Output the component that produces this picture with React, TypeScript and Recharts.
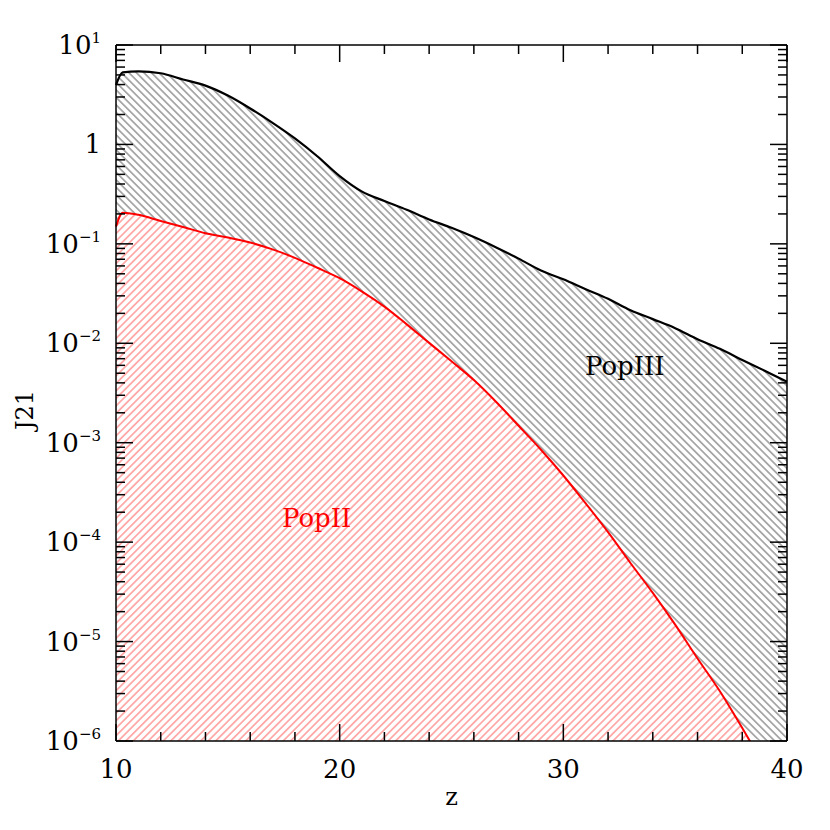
import {
  ComposedChart,
  Area,
  Line,
  XAxis,
  YAxis,
  ReferenceDot,
} from 'recharts';

// redshift grid
const zValues = [10, 10.3, 11, 12, 13, 14, 15, 16, 17, 18, 19, 20, 21, 22, 23, 24, 25, 26, 27, 28, 29, 30, 31, 32, 33, 34, 35, 36, 37, 38, 39, 40];

// J21 from Pop III stars (black curve)
const popIII = [3.96, 5.3, 5.43, 5.2, 4.5, 3.9, 3.1, 2.3, 1.65, 1.15, 0.76, 0.48, 0.335, 0.27, 0.22, 0.176, 0.145, 0.117, 0.092, 0.071, 0.054, 0.044, 0.035, 0.028, 0.0215, 0.0175, 0.0142, 0.011, 0.0088, 0.0068, 0.0053, 0.0041];

// J21 from Pop II stars (red curve), drops below the axis after z~38.4
const popII = [0.149, 0.206, 0.196, 0.17, 0.148, 0.128, 0.116, 0.103, 0.088, 0.0724, 0.0575, 0.0451, 0.0331, 0.0234, 0.0155, 0.0101, 0.0066, 0.00427, 0.00257, 0.00148, 0.00085, 0.000468, 0.000245, 0.000126, 0.0000617, 0.0000309, 0.0000148, 0.00000676, 0.00000316, 0.00000135, 0.00000056, null];

const xTicks = [10, 12, 14, 16, 18, 20, 22, 24, 26, 28, 30, 32, 34, 36, 38, 40];
const xMajor = [10, 20, 30, 40];

const yDecades = [-6, -5, -4, -3, -2, -1, 0, 1];
const yMinorMult = [2, 3, 4, 5, 6, 7, 8, 9];

const annotations = ['PopIII', 'PopII'];
const annotZ = [30.97, 17.42];
const annotJ = [0.0048, 0.000142];
const annotColor = ['#000000', '#ff0000'];

const FLOOR = 1e-6;
const FONT = '"DejaVu Serif", serif';

const yTicks: number[] = [];
yDecades.forEach((e) => {
  yTicks.push(Math.pow(10, e));
  if (e < 1) yMinorMult.forEach((m) => yTicks.push(m * Math.pow(10, e)));
});

const data = zValues.map((z, i) => ({
  z,
  popIII: popIII[i],
  popII: popII[i],
}));

const isMajorY = (v: number) => {
  const l = Math.log10(v);
  return Math.abs(l - Math.round(l)) < 1e-6;
};

function YTick(props: any) {
  const { x, y, payload, side } = props;
  const v = payload.value as number;
  const major = isMajorY(v);
  const len = major ? 17 : 9;
  const dir = side === 'left' ? 1 : -1;
  const e = Math.round(Math.log10(v));
  return (
    <g>
      <line x1={x} y1={y} x2={x + dir * len} y2={y} stroke="#000" strokeWidth={1.5} />
      {side === 'left' && major && (
        <text x={x - 15} y={y + 9} textAnchor="end" fontFamily={FONT} fontSize={26} fill="#000">
          {e === 0 ? '1' : '10'}
          {e !== 0 && (
            <tspan dy={-11} fontSize={15}>
              {e < 0 ? `\u2212${-e}` : `${e}`}
            </tspan>
          )}
        </text>
      )}
    </g>
  );
}

function XTick(props: any) {
  const { x, y, payload, side } = props;
  const v = payload.value as number;
  const major = xMajor.includes(v);
  const len = major ? 17 : 9;
  const dir = side === 'bottom' ? -1 : 1;
  return (
    <g>
      <line x1={x} y1={y} x2={x} y2={y + dir * len} stroke="#000" strokeWidth={1.5} />
      {side === 'bottom' && major && (
        <text x={x} y={y + 37} textAnchor="middle" fontFamily={FONT} fontSize={26} fill="#000">
          {v}
        </text>
      )}
    </g>
  );
}

export default function App() {
  return (
    <div style={{ width: 814, height: 814, background: '#fff' }}>
      <ComposedChart width={814} height={814} data={data} margin={{ top: 0, right: 0, bottom: 0, left: 0 }}>
        <defs>
          <pattern id="hatchBlack" width={5.3} height={5.3} patternUnits="userSpaceOnUse" patternTransform="rotate(-45)">
            <line x1={2.65} y1={0} x2={2.65} y2={5.3} stroke="#000" strokeOpacity={0.62} strokeWidth={1} />
          </pattern>
          <pattern id="hatchRed" width={5.3} height={5.3} patternUnits="userSpaceOnUse" patternTransform="rotate(45)">
            <line x1={2.65} y1={0} x2={2.65} y2={5.3} stroke="#ff0000" strokeOpacity={0.6} strokeWidth={1} />
          </pattern>
        </defs>
        <XAxis
          xAxisId="bottom"
          dataKey="z"
          type="number"
          domain={[10, 40]}
          ticks={xTicks}
          interval={0}
          height={81}
          tickSize={0}
          tickMargin={0}
          tickLine={false}
          axisLine={{ stroke: '#000', strokeWidth: 1.5 }}
          tick={<XTick side="bottom" />}
          label={{
            content: (p: any) => (
              <text x={p.viewBox.x + p.viewBox.width / 2} y={p.viewBox.y + 64} textAnchor="middle" fontFamily={FONT} fontSize={24} fill="#000">
                z
              </text>
            ),
          }}
        />
        <XAxis
          xAxisId="top"
          orientation="top"
          dataKey="z"
          type="number"
          domain={[10, 40]}
          ticks={xTicks}
          interval={0}
          height={37}
          tickSize={0}
          tickMargin={0}
          tickLine={false}
          axisLine={{ stroke: '#000', strokeWidth: 1.5 }}
          tick={<XTick side="top" />}
        />
        <YAxis
          yAxisId="left"
          scale="log"
          type="number"
          domain={[FLOOR, 10]}
          allowDataOverflow
          ticks={yTicks}
          interval={0}
          width={108}
          tickSize={0}
          tickMargin={0}
          tickLine={false}
          axisLine={{ stroke: '#000', strokeWidth: 1.5 }}
          tick={<YTick side="left" />}
          label={{
            content: (p: any) => (
              <text
                x={p.viewBox.x + 25}
                y={p.viewBox.y + p.viewBox.height / 2 + 17}
                textAnchor="middle"
                fontFamily={FONT}
                fontSize={24}
                fill="#000"
                transform={`rotate(-90, ${p.viewBox.x + 25}, ${p.viewBox.y + p.viewBox.height / 2 + 17})`}
              >
                J21
              </text>
            ),
          }}
        />
        <YAxis
          yAxisId="right"
          orientation="right"
          scale="log"
          type="number"
          domain={[FLOOR, 10]}
          allowDataOverflow
          ticks={yTicks}
          interval={0}
          width={35}
          tickSize={0}
          tickMargin={0}
          tickLine={false}
          axisLine={{ stroke: '#000', strokeWidth: 1.5 }}
          tick={<YTick side="right" />}
        />
        <Area
          xAxisId="bottom"
          yAxisId="left"
          type="monotone"
          dataKey={(d: any) => [Math.max(d.popII ?? 0, FLOOR), d.popIII]}
          stroke="none"
          fill="url(#hatchBlack)"
          fillOpacity={1}
          isAnimationActive={false}
        />
        <Area
          xAxisId="bottom"
          yAxisId="left"
          type="monotone"
          dataKey={(d: any) => (d.popII == null ? null : [FLOOR, d.popII])}
          stroke="none"
          fill="url(#hatchRed)"
          fillOpacity={1}
          isAnimationActive={false}
        />
        <Line
          xAxisId="bottom"
          yAxisId="left"
          type="monotone"
          dataKey="popIII"
          stroke="#000"
          strokeWidth={2.2}
          dot={false}
          isAnimationActive={false}
        />
        <Line
          xAxisId="bottom"
          yAxisId="left"
          type="monotone"
          dataKey="popII"
          stroke="#ff0000"
          strokeWidth={2}
          dot={false}
          isAnimationActive={false}
        />
        {annotations.map((name, i) => (
          <ReferenceDot
            key={name}
            xAxisId="bottom"
            yAxisId="left"
            x={annotZ[i]}
            y={annotJ[i]}
            r={0}
            shape={(p: any) => (
              <text x={p.cx} y={p.cy} fontFamily={FONT} fontSize={26} fill={annotColor[i]}>
                {name}
              </text>
            )}
          />
        ))}
      </ComposedChart>
    </div>
  );
}
